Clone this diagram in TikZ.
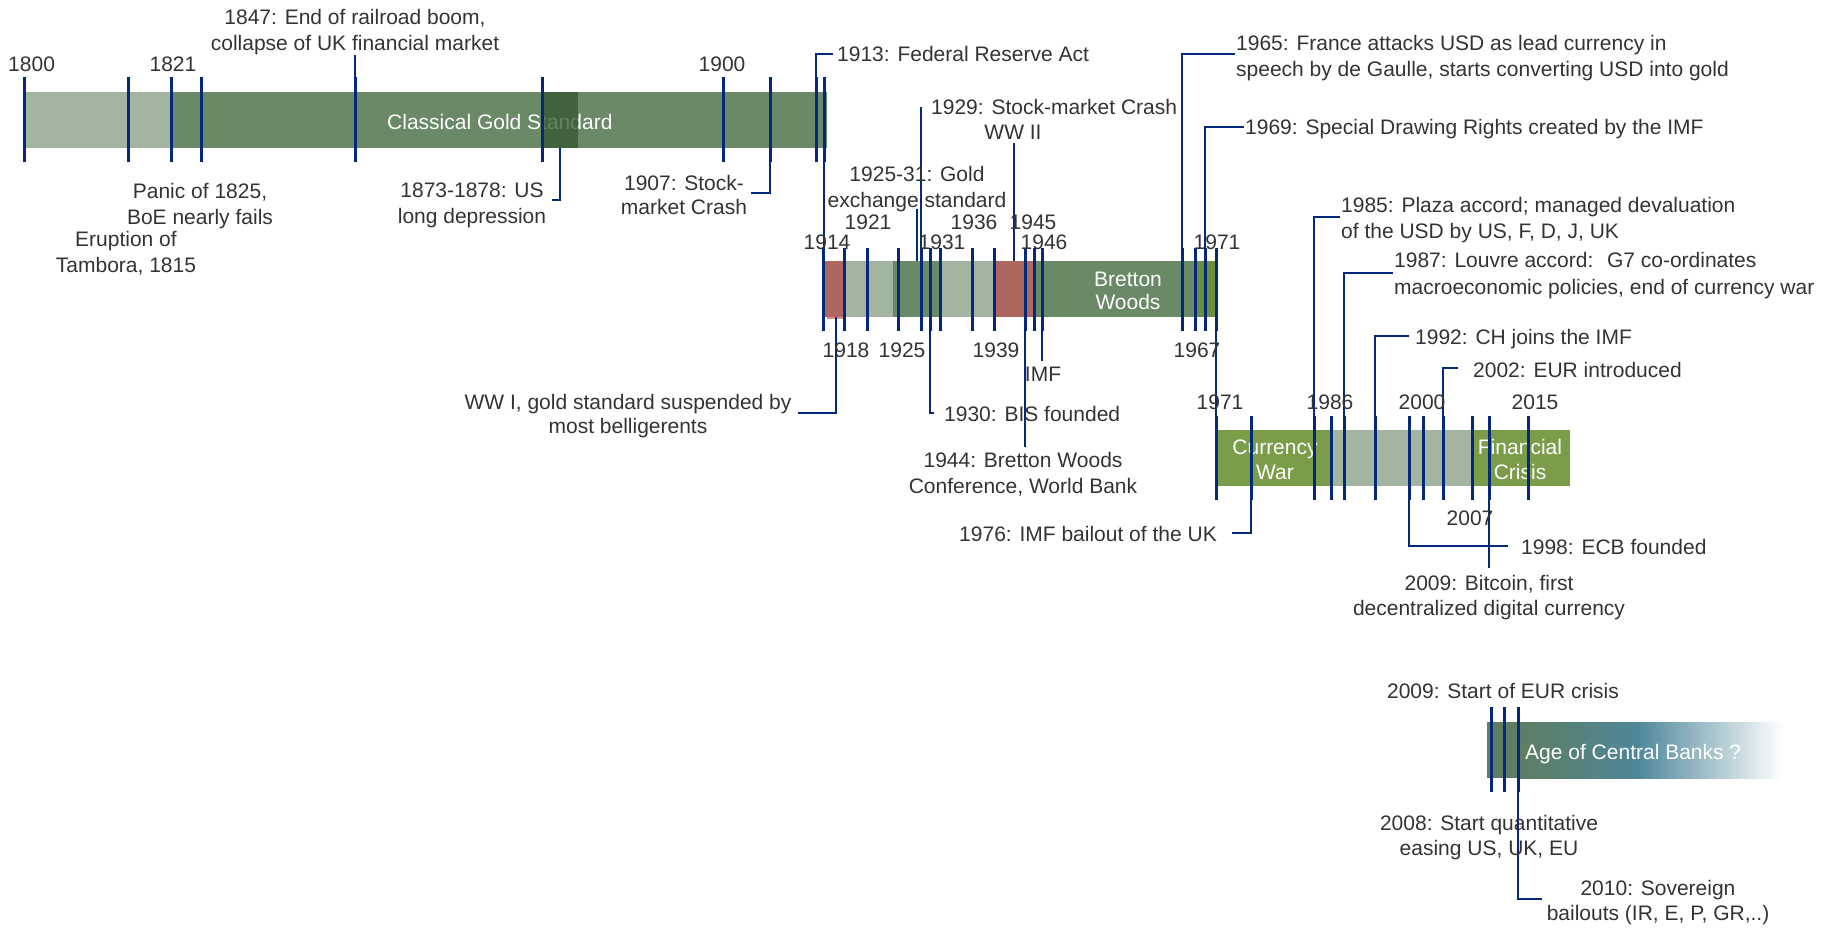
\documentclass[tikz,border=0pt]{standalone}
\usepackage{fontspec}
\setmainfont{Liberation Sans}
\definecolor{txtgrey}{HTML}{333333}
\definecolor{tickblue}{HTML}{05297A}
\definecolor{barlight}{HTML}{A3B4A0}
\definecolor{bardark}{HTML}{6A8966}
\definecolor{bardarker}{HTML}{345530}
\definecolor{barred}{HTML}{AE675E}
\definecolor{barpink}{HTML}{E0908C}
\definecolor{barolive}{HTML}{7B9D49}
\definecolor{barolivedark}{HTML}{6A8E3C}
\definecolor{agegreen}{HTML}{5E7D62}
\definecolor{ageteal}{HTML}{4E879A}
\begin{document}
\begin{tikzpicture}[x=1pt,y=-1pt,
  lbl/.style={font=\fontsize{21}{26}\selectfont, text=txtgrey, inner sep=0pt, align=center, anchor=base},
  lblw/.style={lbl, align=left, anchor=base west},
  lble/.style={lbl, align=right, anchor=base east},
  onbar/.style={lbl, text=white},
  onbarw/.style={lblw, text=white},
  tickline/.style={draw=tickblue, line width=3pt},
  conn/.style={draw=tickblue, line width=1.2pt},
]
\useasboundingbox (0,0) rectangle (1837,927);
% ---------- bar 1 ----------
\fill[barlight] (24,92) rectangle (171,148);
\fill[bardark] (171,92) rectangle (827,148);
\node[onbarw] (cgs) at (387,129.5) {Classical Gold Standard};
\fill[bardarker, opacity=0.75] (542,92) rectangle (578,148);
% ---------- bar 2 ----------
\fill[barpink] (827,315) rectangle (846,319);
\fill[barred] (823,261) rectangle (846,317);
\fill[barlight] (846,261) rectangle (893,317);
\fill[bardark] (893,261) rectangle (940,317);
\fill[barlight] (940,261) rectangle (993,317);
\fill[barred] (993,261) rectangle (1035,317);
\fill[bardark] (1035,261) rectangle (1197,317);
\fill[barolivedark] (1197,261) rectangle (1218,317);
\node[onbar] (bw) at (1128,309.5) {Bretton\\[-3pt]Woods};
% ---------- bar 3 ----------
\fill[barolive] (1216,430) rectangle (1333,486);
\fill[barlight] (1333,430) rectangle (1472,486);
\fill[barolive] (1472,430) rectangle (1570,486);
\node[onbar] (cw) at (1275,479.5) {Currency\\[-1pt]War};
\node[onbar] (fc) at (1520,479.5) {Financial\\[-1pt]Crisis};
% ---------- bar 4 ----------
\fill[agegreen] (1487,722) rectangle (1521,778);
\shade[left color=agegreen, right color=ageteal] (1520,722) rectangle (1638,778);
\shade[left color=ageteal, right color=white] (1637,722) rectangle (1783,778);
\node[onbarw] (acb) at (1525,759.5) {Age of Central Banks ?};
% ---------- ticks ----------
\foreach \x in {24,128.5,171,201,355,542.5,723,770,816,824}
  \draw[tickline] (\x,77) -- (\x,162);
\foreach \x in {823,844,867,898,921,930,940,972,994,1025,1034,1042,1182,1195,1205,1216}
  \draw[tickline] (\x,248) -- (\x,331);
\foreach \x in {1216,1251,1314,1331,1344,1375,1409,1423,1443,1472,1489,1528}
  \draw[tickline] (\x,416) -- (\x,500);
\foreach \x in {1491,1504,1518}
  \draw[tickline] (\x,707) -- (\x,792);
% ---------- connectors ----------
\draw[conn] (355,55) -- (355,77);
\draw[conn] (560,148) |- (552,200);
\draw[conn] (770,162) |- (751,193);
\draw[conn] (816,77) |- (833,54);
\draw[conn] (824,162) -- (824,248);
\draw[conn] (917,209) -- (917,261);
\draw[conn] (921,107) -- (921,248);
\draw[conn] (1014,143) -- (1014,261);
\draw[conn] (836,317) |- (798,413);
\draw[conn] (930,331) |- (934,413);
\draw[conn] (1025,331) -- (1025,447);
\draw[conn] (1042,331) -- (1042,361);
\draw[conn] (1182,248) |- (1235,54);
\draw[conn] (1205,248) |- (1244,127);
\draw[conn] (1216,331) -- (1216,416);
\draw[conn] (1314,416) |- (1340,217);
\draw[conn] (1344,416) |- (1393,273);
\draw[conn] (1251,500) |- (1232,533);
\draw[conn] (1375,416) |- (1409,336);
\draw[conn] (1443,416) |- (1458,368);
\draw[conn] (1409,500) |- (1508,546);
\draw[conn] (1489,500) -- (1489,568);
\draw[conn] (1518,792) |- (1542,899);
% ---------- labels bar 1 ----------
\node[lbl] (y1800) at (31.6,71.5) {1800};
\node[lbl] (y1821) at (173,71.5) {1821};
\node[lbl] (y1900) at (722,71.5) {1900};
\node[lbl] (e1847) at (355,50.5) {1847: End of railroad boom,\\collapse of UK financial market};
\node[lbl] (e1825) at (200,224.5) {Panic of 1825,\\BoE nearly fails};
\node[lbl] (e1815) at (126,272.5) {Eruption of\\Tambora, 1815};
\node[lbl] (e1873) at (472,223.5) {1873-1878: US\\long depression};
\node[lbl] (e1907) at (684,214.5) {1907: Stock-\\[-2pt]market Crash};
\node[lblw] (e1913) at (837,61.5) {1913: Federal Reserve Act};
% ---------- labels bar 2 ----------
\node[lbl] (e1925) at (917,207.5) {1925-31: Gold\\exchange standard};
\node[lblw] (e1929) at (931,114.5) {1929: Stock-market Crash};
\node[lbl] (ww2) at (1013,139.5) {WW II};
\node[lbl] (y1914) at (827,249.5) {1914};
\node[lbl] (y1921) at (868,229.5) {1921};
\node[lbl] (y1931) at (942,249.5) {1931};
\node[lbl] (y1936) at (974,229.5) {1936};
\node[lbl] (y1945) at (1033,229.5) {1945};
\node[lbl] (y1946) at (1044,249.5) {1946};
\node[lbl] (y1971a) at (1217,249.5) {1971};
\node[lbl] (y1918) at (846,357.5) {1918};
\node[lbl] (y1925) at (902,357.5) {1925};
\node[lbl] (y1939) at (996,357.5) {1939};
\node[lbl] (y1967) at (1197,357.5) {1967};
\node[lbl] (imf) at (1043,381.5) {IMF};
\node[lbl] (ww1) at (628,433.5) {WW I, gold standard suspended by\\[-2pt]most belligerents};
\node[lblw] (e1930) at (944,421.5) {1930: BIS founded};
\node[lbl] (e1944) at (1023,493.5) {1944: Bretton Woods\\Conference, World Bank};
\node[lblw] (e1965) at (1236,76.5) {1965: France attacks USD as lead currency in\\speech by de Gaulle, starts converting USD into gold};
\node[lblw] (e1969) at (1245,134.5) {1969: Special Drawing Rights created by the IMF};
\node[lblw] (e1985) at (1341,238.5) {1985: Plaza accord; managed devaluation\\of the USD by US, F, D, J, UK};
\node[lblw] (e1987) at (1394,294.5) {1987: Louvre accord: \ G7 co-ordinates\\[1pt]macroeconomic policies, end of currency war};
% ---------- labels bar 3 ----------
\node[lbl] (y1971b) at (1220,409.5) {1971};
\node[lbl] (y1986) at (1330,409.5) {1986};
\node[lbl] (y2000) at (1422,409.5) {2000};
\node[lbl] (y2015) at (1535,409.5) {2015};
\node[lbl] (y2007) at (1470,525.5) {2007};
\node[lblw] (e1992) at (1415,344.5) {1992: CH joins the IMF};
\node[lblw] (e2002) at (1473,377.5) {2002: EUR introduced};
\node[lble] (e1976) at (1217,541.5) {1976: IMF bailout of the UK};
\node[lblw] (e1998) at (1521,554.5) {1998: ECB founded};
\node[lbl] (e2009b) at (1489,615.5) {2009: Bitcoin, first\\[-1pt]decentralized digital currency};
% ---------- labels bar 4 ----------
\node[lbl] (e2009e) at (1503,698.5) {2009: Start of EUR crisis};
\node[lbl] (e2008) at (1489,855.5) {2008: Start quantitative\\[-1pt]easing US, UK, EU};
\node[lbl] (e2010) at (1658,920.5) {2010: Sovereign\\[-1pt]bailouts (IR, E, P, GR,..)};
\end{tikzpicture}
\end{document}
